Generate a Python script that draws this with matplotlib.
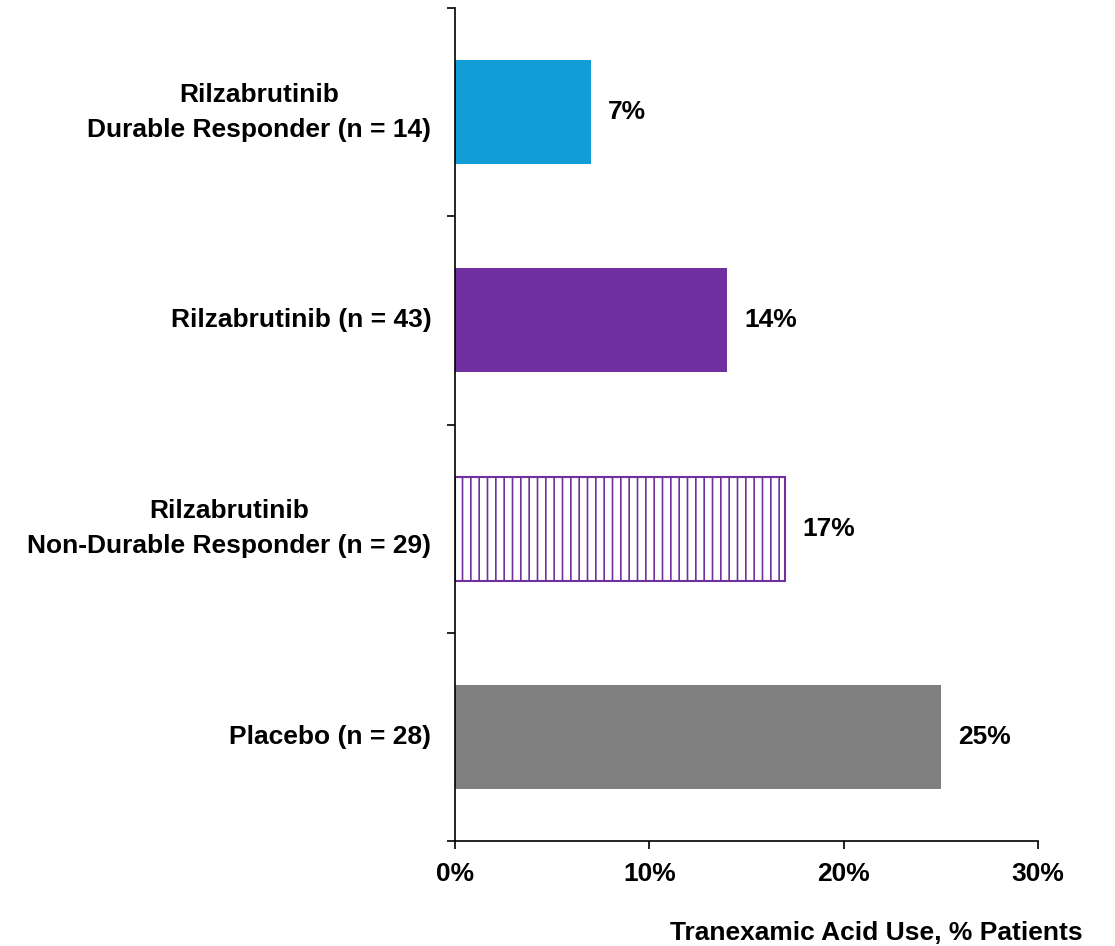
import matplotlib
matplotlib.use("Agg")
import matplotlib.pyplot as plt

plt.rcParams["font.family"] = ["Liberation Sans", "DejaVu Sans"]
plt.rcParams["font.weight"] = "bold"
plt.rcParams["hatch.linewidth"] = 1.2

# data (bottom to top)
groups = ["Placebo (n = 28)",
          "Rilzabrutinib\nNon-Durable Responder (n = 29)",
          "Rilzabrutinib (n = 43)",
          "Rilzabrutinib\nDurable Responder (n = 14)"]
values = [25, 17, 14, 7]
labels = ["25%", "17%", "14%", "7%"]
face_colors = ["#808080", "white", "#7030A0", "#119ED6"]
edge_colors = ["#808080", "#7030A0", "#7030A0", "#119ED6"]
hatches = ["", "||", "", ""]
x_ticks = [0, 10, 20, 30]

FS = 19

fig = plt.figure(figsize=(11.15, 9.46), dpi=100)
ax = fig.add_axes([0.408, 0.111, 0.523, 0.8805])

pos = list(range(len(groups)))
for p, v, fc, ec, h in zip(pos, values, face_colors, edge_colors, hatches):
    ax.barh(p, v, height=0.5, color=fc, edgecolor=ec, hatch=h,
            linewidth=1.5 if h else 0)

for p, v, lab in zip(pos, values, labels):
    ax.annotate(lab, xy=(v, p), xytext=(12.5, 0), textcoords="offset points",
                ha="left", va="center", fontsize=FS, fontweight="bold")

for p, g in zip(pos, groups):
    ax.annotate(g, xy=(0, p), xytext=(-17, 0), textcoords="offset points",
                ha="right", va="center", fontsize=FS, fontweight="bold",
                multialignment="center", linespacing=1.57)

ax.set_xlim(0, 30)
ax.set_ylim(-0.5, len(groups) - 0.5)
ax.set_xticks(x_ticks)
ax.set_xticklabels([f"{t}%" for t in x_ticks], fontsize=FS, fontweight="bold")
ax.set_yticks([i - 0.5 for i in range(len(groups) + 1)])
ax.set_yticklabels([])
ax.tick_params(axis="both", direction="out", length=5.5, width=1.2)
ax.tick_params(axis="x", pad=9.5)

for s in ["top", "right"]:
    ax.spines[s].set_visible(False)
for s in ["left", "bottom"]:
    ax.spines[s].set_linewidth(1.2)

fig.text(0.971, 0.0065, "Tranexamic Acid Use, % Patients", ha="right",
         va="baseline", fontsize=FS, fontweight="bold")

fig.savefig("out.png", dpi=100)
